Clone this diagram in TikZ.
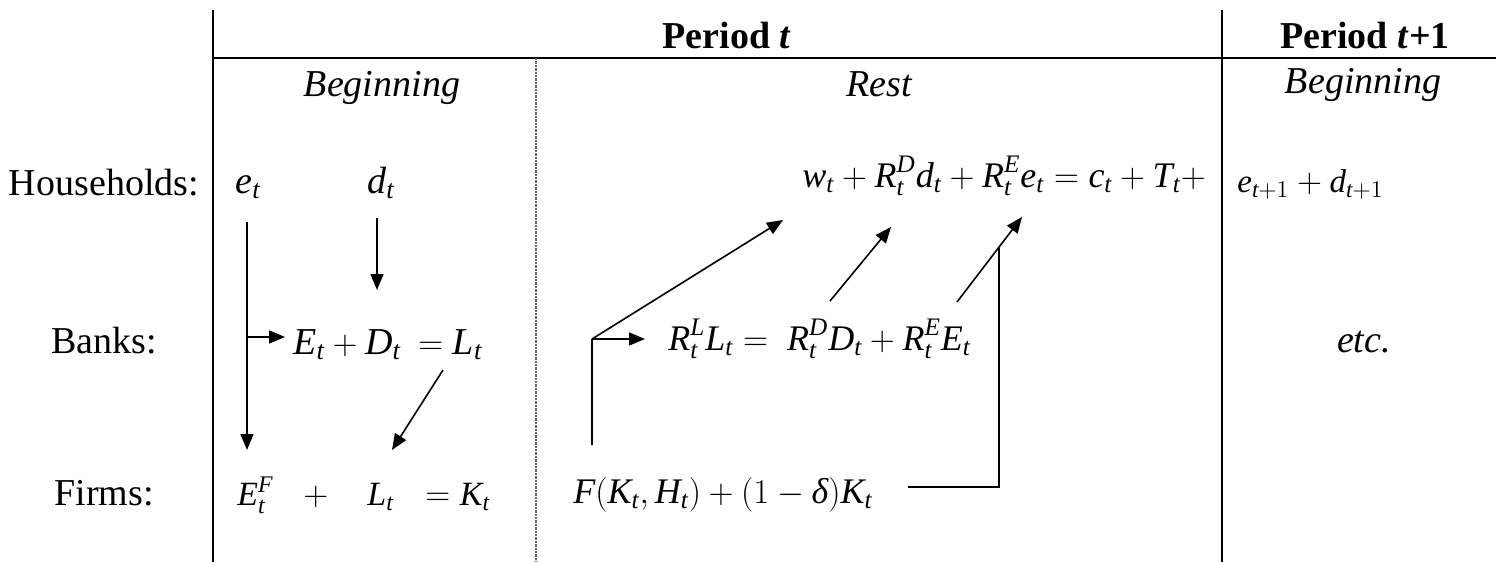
\documentclass[tikz,border=0pt]{standalone}
\usepackage{amsmath}
\usepackage{fontspec}
\setmainfont{Liberation Serif}
\usetikzlibrary{arrows.meta}
\newcommand\iv[1]{\textit{#1}}
\begin{document}
\begin{tikzpicture}[x=0.5pt,y=-0.5pt]
\tikzset{
 tline/.style={line width=1.2pt},
 dline/.style={line width=0.6pt, black!60, dash pattern=on 1.2pt off 0.5pt},
 conn/.style={line width=0.8pt},
 arr/.style={conn, -{Triangle[length=8pt,width=6.5pt]}},
 lab/.style={inner sep=0pt, anchor=base, font=\fontsize{19}{23}\selectfont},
 hdr/.style={inner sep=0pt, anchor=base, font=\fontsize{19}{23}\selectfont\bfseries},
 sub/.style={inner sep=0pt, anchor=base, font=\fontsize{19}{23}\selectfont\itshape},
 eqA/.style={inner sep=0pt, anchor=base west, font=\fontsize{19}{23}\selectfont},
 eqF/.style={inner sep=0pt, anchor=base west, font=\fontsize{17}{21}\selectfont},
 eqR/.style={inner sep=0pt, anchor=base west, font=\fontsize{18}{22}\selectfont},
 eqN/.style={inner sep=0pt, anchor=base west, font=\fontsize{16.5}{20}\selectfont},
}
\useasboundingbox (0,0) rectangle (1496,562);
% table lines
\coordinate (v1t) at (213,10); \coordinate (v1b) at (213,562);
\coordinate (ht) at (213,58); \coordinate (hr) at (1496,58);
\coordinate (v2t) at (1222,10); \coordinate (v2b) at (1222,562);
\coordinate (dt0) at (536,58); \coordinate (db0) at (536,562);
\draw[tline] (v1t) -- (v1b);
\draw[tline] (ht) -- (hr);
\draw[tline] (v2t) -- (v2b);
\draw[dline] (dt0) -- (db0);
% headers
\node[hdr] (pt) at (727,48) {Period \textit{t}};
\node[hdr] (pt1) at (1365,48) {Period \textit{t}+1};
\node[sub] (beg1) at (382,96) {Beginning};
\node[sub] (rest) at (879,96) {Rest};
\node[sub] (beg2) at (1363,93) {Beginning};
% row labels
\node[lab] (hh) at (104,195) {Households:};
\node[lab] (bk) at (104,353) {Banks:};
\node[lab] (fm) at (104,505) {Firms:};
% beginning column
\node[eqA] (et) at (235,193) {$\iv{e}_{\iv{t}}$};
\node[eqA] (dt) at (367,193) {$\iv{d}_{\iv{t}}$};
\node[eqA] (bED) at (293,354) {$\iv{E}_{\iv{t}}+\iv{D}_{\iv{t}}$};
\node[eqA] (bL) at (418,354) {$=\iv{L}_{\iv{t}}$};
\node[eqF] (fE) at (237,505) {$\iv{E}_{\iv{t}}^{\iv{F}}$};
\node[eqF] (fp) at (303,505) {$+$};
\node[eqF] (fL) at (367,505) {$\iv{L}_{\iv{t}}$};
\node[eqF] (fK) at (425,505) {$=\iv{K}_{\iv{t}}$};
% rest column
\node[eqR] (hh2) at (802,187) {$\iv{w}_{\iv{t}}+\iv{R}_{\iv{t}}^{\iv{D}}\iv{d}_{\iv{t}}+\iv{R}_{\iv{t}}^{\iv{E}}\iv{e}_{\iv{t}}=\iv{c}_{\iv{t}}+\iv{T}_{\iv{t}}+$};
\node[eqN] (nx) at (1237,192) {$\iv{e}_{\iv{t}+1}+\iv{d}_{\iv{t}+1}$};
\node[eqR] (rb) at (668,350) {$\iv{R}_{\iv{t}}^{\iv{L}}\iv{L}_{\iv{t}}=\;\iv{R}_{\iv{t}}^{\iv{D}}\iv{D}_{\iv{t}}+\iv{R}_{\iv{t}}^{\iv{E}}\iv{E}_{\iv{t}}$};
\node[eqR] (fprod) at (573,503) {$\iv{F}(\iv{K}_{\iv{t}},\iv{H}_{\iv{t}})+(1-\iv{δ})\iv{K}_{\iv{t}}$};
\node[sub] (etc) at (1364,352) {etc.};
% connector points
\coordinate (a1s) at (247,222); \coordinate (a1e) at (247,450);
\coordinate (a1b) at (247,337); \coordinate (a1be) at (285,337);
\coordinate (a2s) at (377,218); \coordinate (a2e) at (377,290);
\coordinate (a3s) at (443,370); \coordinate (a3e) at (392,450);
\coordinate (r0) at (592,445); \coordinate (r1) at (592,339);
\coordinate (r2) at (783,220); \coordinate (r3) at (645,339);
\coordinate (m1) at (830,301); \coordinate (m2) at (891,227);
\coordinate (n1) at (957,302); \coordinate (n2) at (1022,217);
\coordinate (k0) at (908,487); \coordinate (k1) at (999,487); \coordinate (k2) at (999,248);
\draw[arr] (a1s) -- (a1e);
\draw[arr] (a1b) -- (a1be);
\draw[arr] (a2s) -- (a2e);
\draw[arr] (a3s) -- (a3e);
\draw[conn] (r0) -- (r1);
\draw[arr] (r1) -- (r2);
\draw[arr] (r1) -- (r3);
\draw[arr] (m1) -- (m2);
\draw[arr] (n1) -- (n2);
\draw[conn] (k0) -- (k1) -- (k2);
\end{tikzpicture}
\end{document}
